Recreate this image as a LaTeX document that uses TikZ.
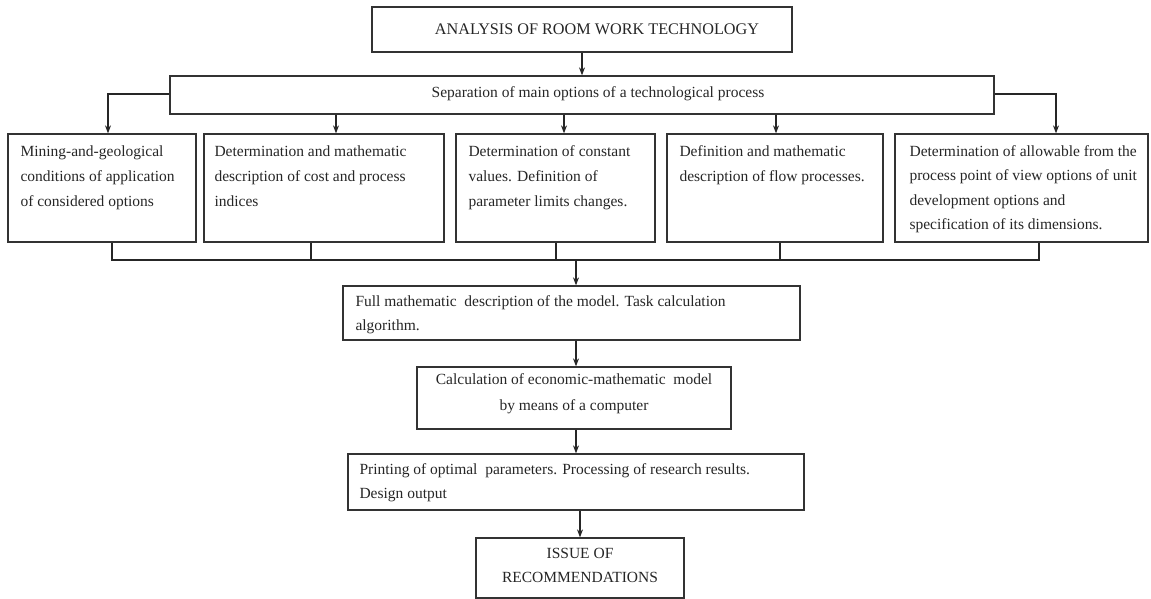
\documentclass[tikz,border=0pt]{standalone}
\usepackage{fontspec}
\setmainfont{Liberation Serif}
\usetikzlibrary{arrows.meta,calc}
\tikzset{
  x=1pt,y=1pt,
  box/.style={draw=black!80,line width=1.3pt,rectangle,inner sep=0pt,minimum width=#1},
  txt/.style={inner sep=0pt,align=left,anchor=north west,text=black!85,font=\fontsize{15.5}{25}\selectfont},
  ctxt/.style={inner sep=0pt,align=center,text=black!85,font=\fontsize{15.5}{25}\selectfont},
  conn/.style={draw=black!85,line width=1.1pt},
  arr/.style={conn,-{Stealth[length=8pt,width=6pt]}}
}
\begin{document}
\begin{tikzpicture}
\useasboundingbox[fill=white] (0,0) rectangle (1151,-599);
% top
\node[box=420,minimum height=45] (top) at (582,-29.5) {};
\node[ctxt,font=\fontsize{16.2}{25}\selectfont] (ttop) at (597,-29) {ANALYSIS OF ROOM WORK TECHNOLOGY};
% separation
\node[box=824,minimum height=38] (sep) at (582,-95) {};
\node[ctxt] (tsep) at (598,-94) {Separation of main options of a technological process};
% row boxes
\node[box=188,minimum height=108] (b1) at (102,-188) {};
\node[box=240,minimum height=108] (b2) at (324,-188) {};
\node[box=199,minimum height=108] (b3) at (555.5,-188) {};
\node[box=216,minimum height=108] (b4) at (775,-188) {};
\node[box=253,minimum height=108] (b5) at (1021.5,-188) {};
\node[txt] (t1) at ([xshift=13,yshift=-12]b1.north west) {Mining-and-geological\\conditions of application\\of considered options};
\node[txt] (t2) at ([xshift=11,yshift=-12]b2.north west) {Determination and mathematic\\description of cost and process\\indices};
\node[txt] (t3) at ([xshift=13,yshift=-12]b3.north west) {Determination of constant\\values. Definition of\\parameter limits changes.};
\node[txt] (t4) at ([xshift=13,yshift=-12]b4.north west) {Definition and mathematic\\description of flow processes.};
\node[txt,font=\fontsize{15.5}{24.5}\selectfont] (t5) at ([xshift=15,yshift=-12]b5.north west) {Determination of allowable from the\\process point of view options of unit\\development options and\\specification of its dimensions.};
% lower chain
\node[box=457,minimum height=54] (full) at (571.5,-313) {};
\node[txt,font=\fontsize{15.5}{24}\selectfont] (tfull) at ([xshift=13,yshift=-10]full.north west) {Full mathematic\ \ description of the model. Task calculation\\algorithm.};
\node[box=314,minimum height=62] (calc) at (574,-398) {};
\node[ctxt,font=\fontsize{15.5}{26}\selectfont] (tcalc) at (574,-394) {Calculation of economic-mathematic\ \ model\\by means of a computer};
\node[box=456,minimum height=56] (print) at (576,-482) {};
\node[txt,font=\fontsize{15.5}{24}\selectfont] (tprint) at ([xshift=12,yshift=-10]print.north west) {Printing of optimal\ \ parameters. Processing of research results.\\Design output};
\node[box=208,minimum height=60] (issue) at (580,-568) {};
\node[ctxt,font=\fontsize{15.5}{24}\selectfont] (tissue) at (580,-565) {ISSUE OF\\RECOMMENDATIONS};
% connectors
\draw[arr] (top.south) -- (sep.north);
\draw[arr] (sep.west |- 0,-94) -| ([xshift=6]b1.north);
\draw[arr] (sep.east |- 0,-94) -| ([xshift=34.5]b5.north);
\draw[arr] ([xshift=12]b2.north |- sep.south) -- ([xshift=12]b2.north);
\draw[arr] ([xshift=8.5]b3.north |- sep.south) -- ([xshift=8.5]b3.north);
\draw[arr] ([xshift=1]b4.north |- sep.south) -- ([xshift=1]b4.north);
\coordinate (bus) at (0,-260);
\coordinate (j) at (576,-260);
\draw[conn] ([xshift=10]b1.south) |- ([xshift=17.5]b5.south |- bus) -- ([xshift=17.5]b5.south);
\draw[conn] ([xshift=-13]b2.south) -- ([xshift=-13]b2.south |- bus);
\draw[conn] ([xshift=0.5]b3.south) -- ([xshift=0.5]b3.south |- bus);
\draw[conn] ([xshift=5]b4.south) -- ([xshift=5]b4.south |- bus);
\draw[arr] (j) -- (j |- full.north);
\draw[arr] (full.south -| j) -- (calc.north -| j);
\draw[arr] (calc.south -| j) -- (print.north -| j);
\draw[arr] (print.south -| issue.north) -- (issue.north);
\end{tikzpicture}
\end{document}
